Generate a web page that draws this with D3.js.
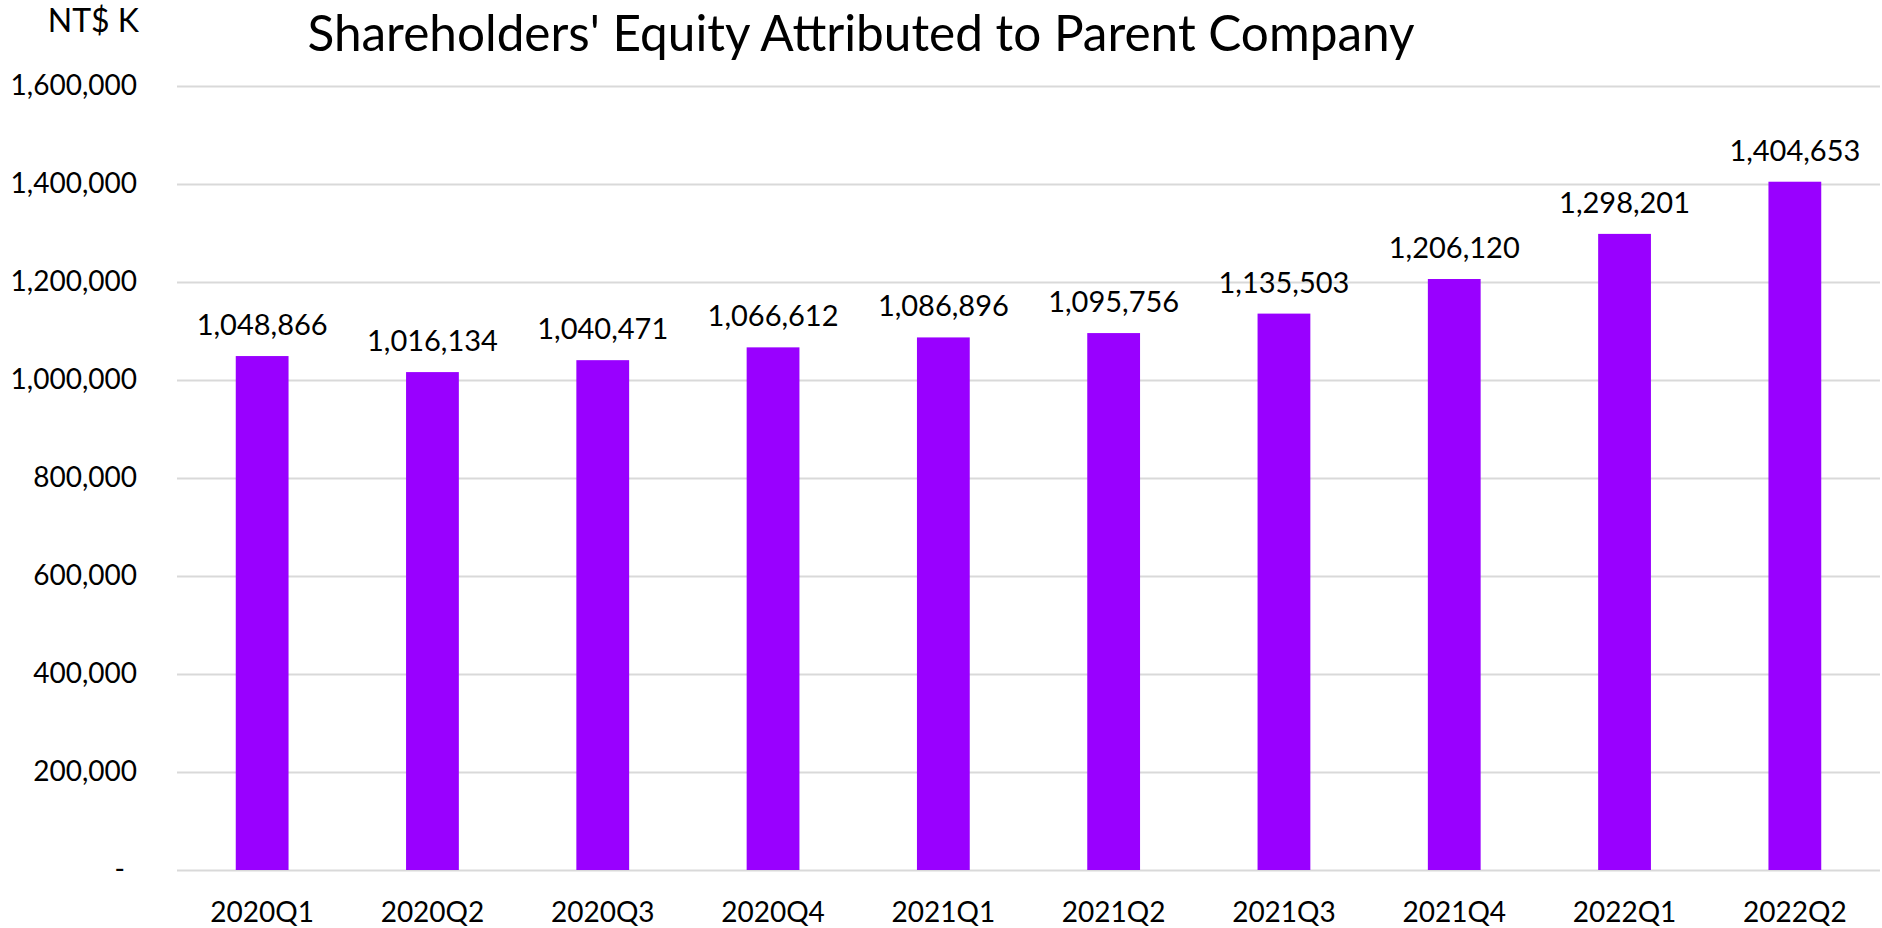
<!DOCTYPE html>
<html>
<head>
<meta charset="utf-8">
<script src="https://cdn.jsdelivr.net/npm/d3@7"></script>
<style>
  body { margin: 0; background: #fff; }
  text { font-family: Lato, "Open Sans", sans-serif; fill: #000; }
</style>
</head>
<body>
<div id="graphics"></div>
<script>
var width = 1882, height = 928;

// chart data
var quarters = ['2020Q1','2020Q2','2020Q3','2020Q4','2021Q1','2021Q2','2021Q3','2021Q4','2022Q1','2022Q2'];
var equity = [1048866, 1016134, 1040471, 1066612, 1086896, 1095756, 1135503, 1206120, 1298201, 1404653];
var yTicks = [0, 200000, 400000, 600000, 800000, 1000000, 1200000, 1400000, 1600000];
var titleText = "Shareholders' Equity Attributed to Parent Company";
var unitText = 'NT$ K';

var margin = {left: 177, right: 2, top: 86, bottom: 58};

var svg = d3.select('#graphics')
            .append('svg')
            .attr('width', width)
            .attr('height', height);

var x = d3.scaleBand()
          .domain(quarters)
          .range([margin.left, width - margin.right])
          .paddingInner(0.69)
          .paddingOuter(0.345);

var y = d3.scaleLinear()
          .domain([0, 1600000])
          .range([height - margin.bottom, margin.top]);

var fmt = d3.format(',');

// gridlines + y labels
var yAxis = d3.axisLeft(y)
              .tickValues(yTicks)
              .tickSize(-(width - margin.right - margin.left))
              .tickPadding(40)
              .tickFormat(function(d) { return d === 0 ? '-' : fmt(d); });

var gy = svg.append('g')
            .attr('transform', 'translate(' + margin.left + ',0)')
            .call(yAxis);
gy.select('.domain').remove();
gy.selectAll('.tick line')
  .attr('stroke', '#d9d9d9')
  .attr('stroke-width', 2);
gy.selectAll('.tick text')
  .style('font-size', '28px')
  .attr('fill', '#000')
  .attr('dx', function(d) { return d === 0 ? -12 : 0; });

// bars
svg.append('g').selectAll('rect')
   .data(equity).enter().append('rect')
   .attr('x', function(d, i) { return x(quarters[i]); })
   .attr('width', x.bandwidth())
   .attr('y', function(d) { return y(d); })
   .attr('height', function(d) { return y(0) - y(d); })
   .attr('fill', '#9900ff');

// value labels
svg.append('g').selectAll('text')
   .data(equity).enter().append('text')
   .attr('x', function(d, i) { return x(quarters[i]) + x.bandwidth() / 2; })
   .attr('y', function(d) { return y(d) - 21; })
   .attr('text-anchor', 'middle')
   .style('font-size', '29px')
   .text(function(d) { return fmt(d); });

// x axis labels
var xAxis = d3.axisBottom(x).tickSize(0).tickPadding(32);
var gx = svg.append('g')
            .attr('transform', 'translate(0,' + y(0) + ')')
            .call(xAxis);
gx.select('.domain').remove();
gx.selectAll('.tick text')
  .style('font-size', '28px')
  .attr('fill', '#000');

// title and unit
svg.append('text')
   .attr('x', 861)
   .attr('y', 51)
   .attr('text-anchor', 'middle')
   .style('font-size', '49.5px')
   .text(titleText);

svg.append('text')
   .attr('x', 139)
   .attr('y', 32)
   .attr('text-anchor', 'end')
   .style('font-size', '32px')
   .text(unitText);
</script>
</body>
</html>
